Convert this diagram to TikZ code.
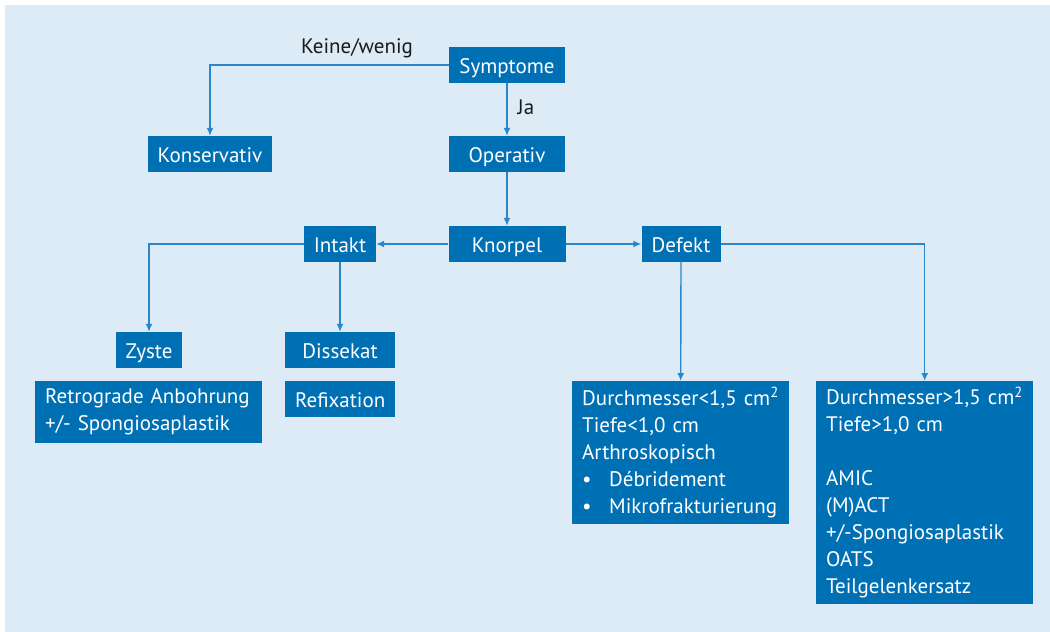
\documentclass[tikz,border=0pt]{standalone}
\usepackage{fontspec}
\setmainfont{PT Sans}
\usetikzlibrary{arrows.meta}
\definecolor{bgc}{HTML}{DDEBF7}
\definecolor{boxc}{HTML}{0070B5}
\definecolor{linec}{HTML}{2A86C8}
\definecolor{txtc}{HTML}{1A1A1A}
\tikzset{
  box/.style={fill=boxc, text=white, inner sep=0pt, font=\fontsize{21}{27}\selectfont},
  sbox/.style={box, text height=26pt, text depth=10pt},
  conn/.style={draw=linec, line width=1.4pt},
  arr/.style={conn, -{Latex[length=8pt,width=7pt]}},
  lbl/.style={text=txtc, font=\fontsize{21}{27}\selectfont, inner sep=0pt},
}
\begin{document}
\begin{tikzpicture}[x=1pt,y=-1pt]
\useasboundingbox (0,0) rectangle (1050,632);
\fill[bgc] (5,5) rectangle (1050,632);
% single-line boxes
\node[sbox, minimum width=116pt] (sym) at (507,65) {Symptome};
\node[sbox, minimum width=124pt] (kons) at (210,154) {Konservativ};
\node[sbox, minimum width=116pt] (oper) at (507,154) {Operativ};
\node[sbox, minimum width=117pt] (knor) at (507,244) {Knorpel};
\node[sbox, minimum width=72pt] (intakt) at (340,244) {Intakt};
\node[sbox, minimum width=79pt] (defekt) at (681,244) {Defekt};
\node[sbox, minimum width=66pt] (zyste) at (149,350) {Zyste};
\node[sbox, minimum width=110pt] (diss) at (340,350) {Dissekat};
\node[sbox, minimum width=110pt, anchor=north west] (refix) at (285,381) {Refixation};
% multi-line boxes
\node[box, anchor=north west, minimum width=227pt, minimum height=62pt, text width=207pt, align=left] (retro) at (35,381)
  {Retrograde Anbohrung\\+/- Spongiosaplastik};
\node[box, anchor=north west, minimum width=217pt, minimum height=143pt, text width=197pt, align=left] (small) at (572,381)
  {Durchmesser<1,5 cm\textsuperscript{2}\\Tiefe<1,0 cm\\Arthroskopisch\\\makebox[27pt][l]{•}Débridement\\\makebox[27pt][l]{•}Mikrofrakturierung};
\node[box, anchor=north west, minimum width=217pt, minimum height=223pt, text width=197pt, align=left] (big) at (816,381)
  {Durchmesser>1,5 cm\textsuperscript{2}\\Tiefe>1,0 cm\\\mbox{}\\AMIC\\(M)ACT\\+/-Spongiosaplastik\\OATS\\Teilgelenkersatz};
% connectors
\draw[arr] (sym.west) -| (kons.north);
\node[lbl] (keine) at (357,48) {Keine/wenig};
\draw[arr] (sym.south) -- (oper.north);
\node[lbl] (ja) at (526,107) {Ja};
\draw[arr] (oper.south) -- (knor.north);
\draw[arr] (knor.west) -- (intakt.east);
\draw[arr] (knor.east) -- (defekt.west);
\draw[arr] (intakt.west) -| (zyste.north);
\draw[arr] (intakt.south) -- (diss.north);
\draw[arr] (defekt.south) -- (small.north);
\draw[arr] (defekt.east) -| (big.north);
\end{tikzpicture}
\end{document}
